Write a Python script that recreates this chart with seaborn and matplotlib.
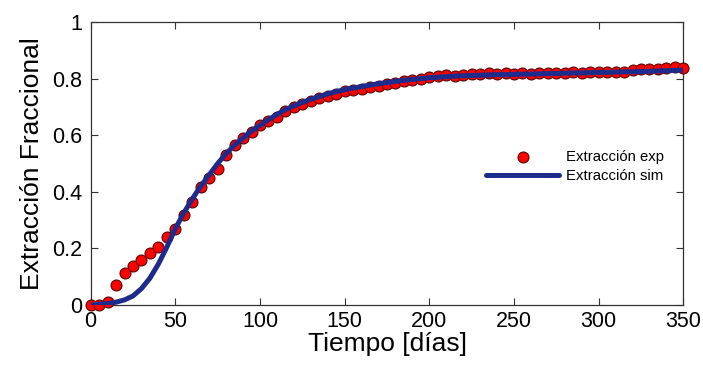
import numpy as np
import pandas as pd
import matplotlib
matplotlib.use("Agg")
import matplotlib.pyplot as plt
import seaborn as sns

# ---- data ----
dias = list(range(0, 355, 5))
extraccion_exp = [0.0, 0.0, 0.012, 0.07, 0.113, 0.138, 0.159, 0.184, 0.205, 0.24,
                  0.27, 0.318, 0.364, 0.417, 0.45, 0.48, 0.53, 0.565, 0.59, 0.61,
                  0.635, 0.65, 0.665, 0.685, 0.70, 0.71, 0.72, 0.73, 0.74, 0.745,
                  0.755, 0.76, 0.765, 0.77, 0.775, 0.78, 0.785, 0.79, 0.795, 0.80,
                  0.805, 0.81, 0.812, 0.81, 0.812, 0.815, 0.815, 0.82, 0.818, 0.82,
                  0.818, 0.82, 0.818, 0.82, 0.82, 0.82, 0.82, 0.822, 0.82, 0.825,
                  0.825, 0.825, 0.825, 0.825, 0.83, 0.835, 0.835, 0.835, 0.838, 0.84,
                  0.838]
extraccion_sim = [0.0, 0.002, 0.005, 0.01, 0.018, 0.032, 0.058, 0.095, 0.145, 0.205,
                  0.27, 0.325, 0.375, 0.42, 0.46, 0.50, 0.535, 0.565, 0.59, 0.615,
                  0.635, 0.655, 0.673, 0.69, 0.704, 0.716, 0.727, 0.737, 0.746, 0.754,
                  0.761, 0.767, 0.772, 0.777, 0.782, 0.786, 0.79, 0.794, 0.797, 0.80,
                  0.803, 0.805, 0.807, 0.809, 0.81, 0.811, 0.812, 0.813, 0.814, 0.814,
                  0.815, 0.816, 0.816, 0.817, 0.818, 0.818, 0.819, 0.82, 0.82, 0.821,
                  0.822, 0.822, 0.823, 0.824, 0.824, 0.825, 0.826, 0.827, 0.828, 0.829,
                  0.83]
x_ticks = [0, 50, 100, 150, 200, 250, 300, 350]
y_ticks = [0, 0.2, 0.4, 0.6, 0.8, 1]
y_ticklabels = ["0", "0.2", "0.4", "0.6", "0.8", "1"]

df = pd.DataFrame({"dias": dias, "exp": extraccion_exp, "sim": extraccion_sim})

sns.set_style("ticks")
plt.rcParams["font.family"] = ["Liberation Sans", "DejaVu Sans"]
plt.rcParams["text.color"] = "black"
plt.rcParams["axes.labelcolor"] = "black"
plt.rcParams["xtick.labelcolor"] = "black"
plt.rcParams["ytick.labelcolor"] = "black"

fig = plt.figure(figsize=(7.03, 3.67), dpi=100)
ax = fig.add_axes([0.129, 0.169, 0.843, 0.771])

sns.scatterplot(data=df, x="dias", y="exp", ax=ax, color="#ff0000",
                edgecolor="#5a0000", linewidth=0.8, s=62, zorder=3,
                clip_on=False, label="Extracción exp")
sns.lineplot(data=df, x="dias", y="sim", ax=ax, color="#1c2b8c",
             linewidth=3.6, zorder=4, label="Extracción sim")

ax.set_xlim(0, 350)
ax.set_ylim(0, 1)
ax.set_xticks(x_ticks)
ax.set_xticklabels([str(t) for t in x_ticks])
ax.set_yticks(y_ticks)
ax.set_yticklabels(y_ticklabels)
ax.tick_params(direction="in", top=True, right=True, length=5, width=0.8,
               labelsize=15.5, color="#333333", labelcolor="black")
ax.tick_params(axis="x", pad=4)
ax.tick_params(axis="y", pad=6)
for sp in ax.spines.values():
    sp.set_color("#333333")
    sp.set_linewidth(0.9)

ax.set_xlabel("Tiempo [días]", fontsize=19, labelpad=0, color="black")
ax.set_ylabel("Extracción Fraccional", fontsize=19, labelpad=6, color="black")

leg = ax.legend(loc="center left", bbox_to_anchor=(0.645, 0.49), frameon=False,
                fontsize=10.7, handlelength=4.9, handletextpad=0.45,
                labelspacing=0.35)
for t in leg.get_texts():
    t.set_color("black")

fig.savefig("out.png", dpi=100)
